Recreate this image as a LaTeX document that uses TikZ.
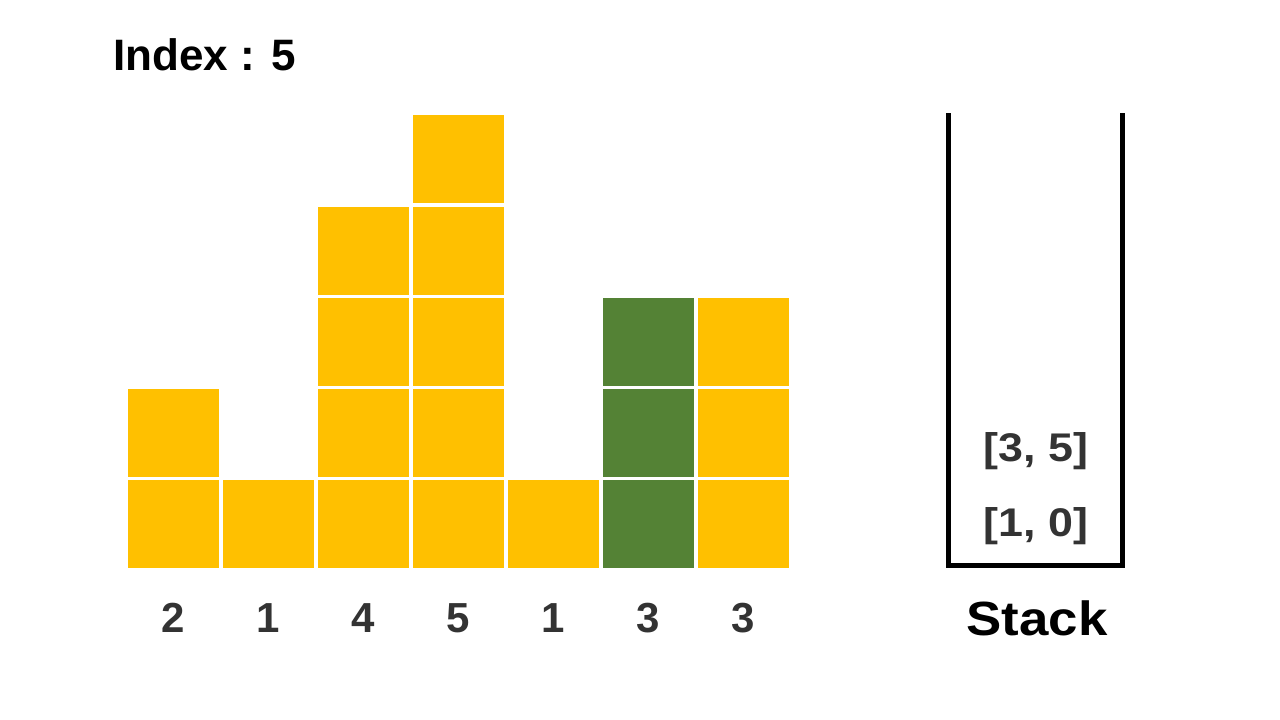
\documentclass[tikz,border=0pt]{standalone}
\usepackage{fontspec}
\setmainfont{Liberation Sans}
\newfontfamily\widesans{Liberation Sans}[FakeStretch=1.1]
\newfontfamily\widersans{Liberation Sans}[FakeStretch=1.12]
\definecolor{ybar}{HTML}{FFC000}
\definecolor{gbar}{HTML}{548235}
\definecolor{dgray}{HTML}{333333}
\begin{document}
\begin{tikzpicture}[x=1pt,y=-1pt,
  cell/.style={rectangle,fill=ybar,minimum width=91pt,minimum height=88pt,inner sep=0pt,anchor=north west},
  gcell/.style={cell,fill=gbar},
  lbl/.style={text=dgray,font=\fontsize{42}{48}\selectfont\bfseries},
  stk/.style={text=dgray,font=\widersans\fontsize{40}{46}\selectfont\bfseries}]
\useasboundingbox (0,0) rectangle (1280,720);
\node[anchor=base west,inner sep=0pt,font=\fontsize{44}{50}\selectfont\bfseries] (idx) at (113,70) {Index : 5};
% heights 2 1 4 5 1 3 3
\foreach \c/\h/\s in {0/2/cell,1/1/cell,2/4/cell,3/5/cell,4/1/cell,5/3/gcell,6/3/cell}{
  \foreach \r in {1,...,\h}{
    \node[\s] (c\c r\r) at ({128+95*\c},{480-91.2*(\r-1)}) {};
  }
}
\foreach \c/\v in {0/2,1/1,2/4,3/5,4/1,5/3,6/3}{
  \node[lbl] (n\c) at ({173.5+95*\c},618) {\v};
}
\coordinate (stl) at (948,113);
\coordinate (str) at (1122,113);
\draw[line width=5pt] (stl) -- (948,565) -- (1122,565) -- (str);
\node[stk] (s1) at (1036,451) {[3, 5]};
\node[stk] (s0) at (1036,526) {[1, 0]};
\node[font=\widesans\fontsize{48}{54}\selectfont\bfseries] (stack) at (1037,618) {Stack};
\end{tikzpicture}
\end{document}
